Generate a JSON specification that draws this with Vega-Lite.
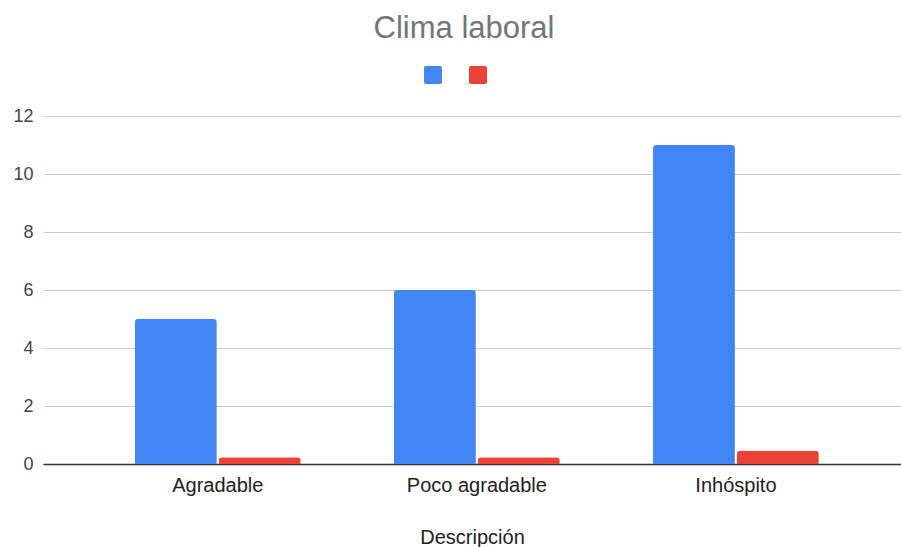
{
  "$schema": "https://vega.github.io/schema/vega-lite/v6.json",
  "autosize": {"type": "none"},
  "padding": {"left": 43, "top": 116, "right": 0, "bottom": 83},
  "width": 858,
  "height": 348,
  "background": "white",
  "title": {
    "text": "Clima laboral",
    "anchor": "middle",
    "font": "Liberation Sans",
    "fontSize": 31,
    "fontWeight": "normal",
    "color": "#757575",
    "baseline": "alphabetic",
    "dx": -8,
    "offset": -3
  },
  "data": {
    "values": [
      {"descripcion": "Agradable", "serie": "Frecuencia", "valor": 5},
      {"descripcion": "Agradable", "serie": "Proporción", "valor": 0.23},
      {"descripcion": "Poco agradable", "serie": "Frecuencia", "valor": 6},
      {"descripcion": "Poco agradable", "serie": "Proporción", "valor": 0.23},
      {"descripcion": "Inhóspito", "serie": "Frecuencia", "valor": 11},
      {"descripcion": "Inhóspito", "serie": "Proporción", "valor": 0.46}
    ]
  },
  "mark": {
    "type": "bar",
    "cornerRadiusTopLeft": 3,
    "cornerRadiusTopRight": 3
  },
  "encoding": {
    "x": {
      "field": "descripcion",
      "type": "nominal",
      "sort": null,
      "title": "Descripción",
      "scale": {"paddingInner": 0.36, "paddingOuter": 0.336, "align": 0.528},
      "axis": {
        "labelAngle": 0,
        "labelFont": "Liberation Sans",
        "labelFontSize": 20,
        "labelColor": "#222222",
        "labelPadding": 11,
        "ticks": false,
        "domainColor": "#333333",
        "domainWidth": 1.5,
        "titleFont": "Liberation Sans",
        "titleFontSize": 20,
        "titleFontWeight": "normal",
        "titleColor": "#222222",
        "titlePadding": 32
      }
    },
    "xOffset": {
      "field": "serie",
      "type": "nominal",
      "scale": {"paddingInner": 0.024}
    },
    "y": {
      "field": "valor",
      "type": "quantitative",
      "title": null,
      "scale": {"domain": [0, 12]},
      "axis": {
        "values": [0, 2, 4, 6, 8, 10, 12],
        "labelFont": "Liberation Sans",
        "labelFontSize": 18,
        "labelColor": "#444444",
        "labelPadding": 10,
        "ticks": false,
        "domain": false,
        "gridColor": "#cccccc",
        "gridWidth": 1
      }
    },
    "color": {
      "field": "serie",
      "type": "nominal",
      "scale": {"domain": ["Frecuencia", "Proporción"], "range": ["#4285F4", "#EA4335"]},
      "legend": {
        "title": null,
        "orient": "none",
        "legendX": 381,
        "legendY": -50,
        "direction": "horizontal",
        "padding": 0,
        "symbolType": "M-0.78,-1H0.78Q1,-1,1,-0.78V0.78Q1,1,0.78,1H-0.78Q-1,1,-1,0.78V-0.78Q-1,-1,-0.78,-1Z",
        "symbolSize": 324,
        "symbolStrokeWidth": 0,
        "symbolOpacity": 1,
        "labelExpr": "''",
        "labelFontSize": 1,
        "labelOffset": 0,
        "columnPadding": 27
      }
    }
  },
  "config": {
    "view": {"stroke": null}
  }
}
